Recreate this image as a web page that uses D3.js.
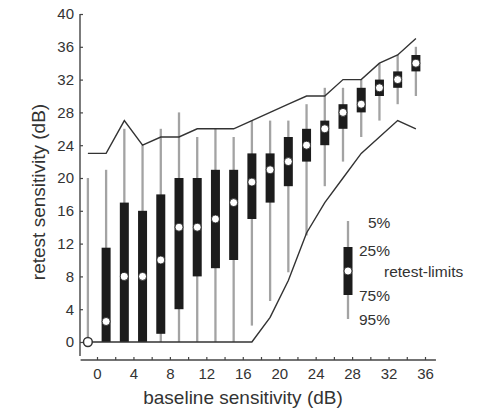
<!DOCTYPE html>
<html>
<head>
<meta charset="utf-8">
<script src="https://cdn.jsdelivr.net/npm/d3@7"></script>
<style>
  html, body { margin: 0; padding: 0; background: #fff; }
  svg { display: block; }
  text { font-family: "Liberation Sans", Arial, sans-serif; fill: #333; }
</style>
</head>
<body>
<svg id="chart" width="478" height="412"></svg>
<script>
// Baseline bin positions (dB)
const baseline = [-1, 1, 3, 5, 7, 9, 11, 13, 15, 17, 19, 21, 23, 25, 27, 29, 31, 33, 35];

// Retest sensitivity distribution per baseline bin (dB)
const whiskerTop    = [20, 21, 26, 24, 26, 28, 25, 26, 25, 27, 27, 27, 29, 31, 31, 32, 34, 35, 36];
const boxTop        = [null, 11.5, 17, 16, 18, 20, 20, 21, 21, 23, 23, 25, 26, 27, 29, 31, 32, 33, 35];
const median        = [0, 2.5, 8, 8, 10, 14, 14, 15, 17, 19.5, 21, 22, 24, 26, 28, 29, 31, 32, 34];
const boxBottom     = [null, 0, 0, 0, 1, 4, 8, 9, 10, 15, 17, 19, 22, 24, 26, 28, 30, 31, 33];
const whiskerBottom = [0, 0, 0, 0, 0, 0, 0, 0, 0, 2, 5, 8.5, 13, 19, 22, 25, 27, 29, 30];

// Retest-limit envelopes (dB)
const upperLimit = [23, 23, 27, 24, 25, 25, 26, 26, 26, 27, 28, 29, 30, 30, 32, 32, 34, 35, 37];
const lowerLimit = [0, 0, 0, 0, 0, 0, 0, 0, 0, 0, 3, 7.5, 13.3, 17, 20, 23, 25, 27, 26];

// Axis ticks
const xTicks = d3.range(0, 37, 2);
const yTicks = d3.range(0, 41, 4);

// Legend labels
const legendLabels = ["5%", "25%", "retest-limits", "75%", "95%"];

const svg = d3.select("#chart");

const x = d3.scaleLinear().domain([0, 36]).range([97, 425]);
const y = d3.scaleLinear().domain([0, 40]).range([342, 14]);

const axisColor = "#444";
const boxW = 9;

const rows = baseline.map((b, i) => ({
  b, wt: whiskerTop[i], bt: boxTop[i], m: median[i], bb: boxBottom[i], wb: whiskerBottom[i]
}));

// ---- axes ----
const xAxisY = 360;
const yAxisX = 80;

const gx = svg.append("g").attr("transform", `translate(0,${xAxisY})`)
  .call(d3.axisBottom(x).tickValues(xTicks).tickSize(-3).tickPadding(8.5)
    .tickFormat(d => d % 4 === 0 ? d : ""));
gx.select(".domain").remove();
gx.selectAll(".tick line").attr("stroke", axisColor).attr("stroke-width", 1.2);
gx.selectAll(".tick text").attr("font-size", 15).attr("font-family", null).style("fill", "#333");
gx.append("line")
  .attr("x1", x(-1.8)).attr("x2", x(37.2))
  .attr("stroke", axisColor).attr("stroke-width", 1.4);

const gy = svg.append("g").attr("transform", `translate(${yAxisX},0)`)
  .call(d3.axisLeft(y).tickValues(yTicks).tickSize(-3).tickPadding(6));
gy.select(".domain").remove();
gy.selectAll(".tick line").attr("stroke", axisColor).attr("stroke-width", 1.2);
gy.selectAll(".tick text").attr("font-size", 15).attr("font-family", null).style("fill", "#333");
gy.append("line")
  .attr("y1", y(40)).attr("y2", y(-1.7))
  .attr("stroke", axisColor).attr("stroke-width", 1.4);

// axis titles
svg.append("text")
  .attr("x", 243).attr("y", 404)
  .attr("text-anchor", "middle")
  .attr("font-size", 19)
  .text("baseline sensitivity (dB)");

svg.append("text")
  .attr("transform", `translate(45,192) rotate(-90)`)
  .attr("text-anchor", "middle")
  .attr("font-size", 19)
  .text("retest sensitivity (dB)");

// ---- whiskers ----
svg.append("g").selectAll("line").data(rows).join("line")
  .attr("x1", d => x(d.b)).attr("x2", d => x(d.b))
  .attr("y1", d => y(d.wt)).attr("y2", d => y(d.wb))
  .attr("stroke", "#a3a3a3").attr("stroke-width", 2.3);

// ---- boxes ----
svg.append("g").selectAll("rect").data(rows.filter(d => d.bt !== null)).join("rect")
  .attr("x", d => x(d.b) - boxW / 2).attr("width", boxW)
  .attr("y", d => y(d.bt)).attr("height", d => y(d.bb) - y(d.bt))
  .attr("fill", "#1c1c1c");

// ---- retest-limit lines ----
const line = d3.line().x((d, i) => x(baseline[i])).y(d => y(d));
[upperLimit, lowerLimit].forEach(arr => {
  svg.append("path").datum(arr)
    .attr("d", line)
    .attr("fill", "none").attr("stroke", "#333").attr("stroke-width", 1.4)
    .attr("stroke-linejoin", "miter");
});

// ---- medians ----
svg.append("g").selectAll("circle").data(rows).join("circle")
  .attr("cx", d => x(d.b)).attr("cy", d => y(d.m))
  .attr("r", d => d.bt === null ? 4.4 : 4)
  .attr("fill", "#fff")
  .attr("stroke", d => d.bt === null ? "#333" : "#1c1c1c")
  .attr("stroke-width", d => d.bt === null ? 1.5 : 0.8);

// ---- legend ----
const lg = svg.append("g").attr("transform", "translate(348,0)");
lg.append("line").attr("x1", 0).attr("x2", 0).attr("y1", 221).attr("y2", 319)
  .attr("stroke", "#a3a3a3").attr("stroke-width", 2.3);
lg.append("rect").attr("x", -boxW / 2).attr("width", boxW).attr("y", 247).attr("height", 48)
  .attr("fill", "#1c1c1c");
lg.append("circle").attr("cx", 0).attr("cy", 271).attr("r", 4)
  .attr("fill", "#fff").attr("stroke", "#1c1c1c").attr("stroke-width", 0.8);

const legendPos = [[20, 228], [11, 256], [36, 276.5], [11, 301], [11, 324.5]];
lg.selectAll("text.lbl").data(legendLabels).join("text")
  .attr("class", "lbl")
  .attr("x", (d, i) => legendPos[i][0]).attr("y", (d, i) => legendPos[i][1])
  .attr("font-size", 15.5)
  .text(d => d);
</script>
</body>
</html>
